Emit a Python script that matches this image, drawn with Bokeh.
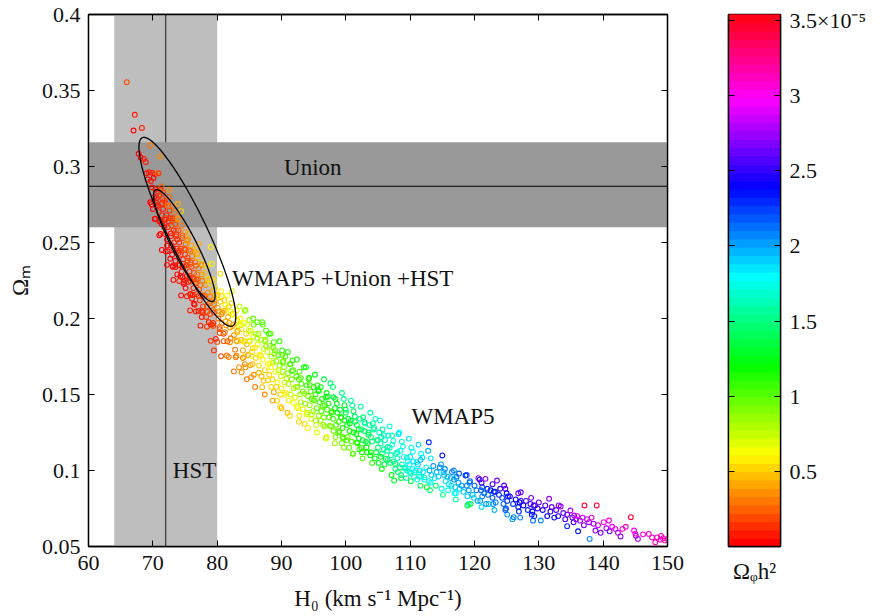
import colorsys
import numpy as np
from bokeh.plotting import figure
from bokeh.models import (ColumnDataSource, LinearColorMapper, LinearAxis, FixedTicker,
                          CustomJSTickFormatter, Range1d)
from bokeh.layouts import row
from bokeh.core.properties import value
from bokeh.embed import file_html
from bokeh.resources import INLINE

# ---------------- data ----------------
# MCMC samples: H0, Omega_m, Omega_phi h^2 (in units of 1e-5)
h0_top = [65.95, 67.2, 67.0, 68.3, 69.6, 67.8, 68.1, 68.6, 68.9, 71.1,
          69.0, 69.4, 69.9, 70.3, 70.7, 69.2, 69.7, 70.1, 70.9, 71.35,
          69.9, 70.4, 70.8, 71.2, 71.6, 70.2, 70.6, 71.0, 71.5, 71.8,
          70.9, 71.4, 70.0, 70.6, 71.0]
om_top = [0.3555, 0.3340, 0.3237, 0.3254, 0.3138, 0.3084, 0.3060, 0.3050, 0.3030, 0.3066,
          0.2955, 0.2962, 0.2958, 0.2950, 0.2956, 0.2915, 0.2905, 0.2925, 0.2956, 0.2868,
          0.2862, 0.2850, 0.2835, 0.2848, 0.2830, 0.2800, 0.2795, 0.2810, 0.2790, 0.2775,
          0.2700, 0.2680, 0.2720, 0.2760, 0.2640]
oph_top = [0.20, 0.08, 0.05, 0.10, 0.30, 0.05, 0.04, 0.06, 0.07, 0.35,
           0.05, 0.08, 0.06, 0.10, 0.28, 0.04, 0.07, 0.05, 0.12, 0.25,
           0.06, 0.10, 0.08, 0.14, 0.18, 0.05, 0.09, 0.12, 0.15, 0.20,
           0.10, 0.12, 0.04, 0.06, 0.05]

h0_core = [72.0, 72.1, 72.3, 72.2, 72.5, 72.6, 72.4, 72.8, 72.9, 73.0,
           73.1, 73.2, 73.0, 73.4, 73.5, 73.6, 73.7, 73.5, 73.9, 74.0,
           74.1, 74.0, 74.2, 74.3, 74.5, 74.6, 74.4, 74.7, 74.5, 74.8,
           75.0, 75.1, 75.0, 75.2, 75.3, 75.1, 75.5, 75.6, 75.4, 75.7,
           75.5, 75.8, 76.0, 76.1, 76.0, 76.2, 76.3, 76.1, 76.5, 76.6,
           76.4, 76.7, 76.8, 76.5, 77.0, 77.1, 77.0, 77.2, 77.3, 77.1,
           77.5, 77.6, 77.4, 77.7, 77.8, 77.6, 72.7, 73.3, 73.8, 74.3,
           74.9, 75.4, 75.9, 76.4, 76.9, 72.9, 73.6, 74.6, 75.7, 76.8]
om_core = [0.2760, 0.2680, 0.2600, 0.2520, 0.2800, 0.2710, 0.2640, 0.2560, 0.2480, 0.2740,
           0.2660, 0.2580, 0.2420, 0.2700, 0.2620, 0.2540, 0.2460, 0.2380, 0.2660, 0.2580,
           0.2500, 0.2430, 0.2350, 0.2280, 0.2610, 0.2530, 0.2460, 0.2390, 0.2310, 0.2240,
           0.2570, 0.2490, 0.2420, 0.2350, 0.2280, 0.2200, 0.2520, 0.2450, 0.2380, 0.2310,
           0.2240, 0.2160, 0.2480, 0.2410, 0.2340, 0.2270, 0.2200, 0.2130, 0.2440, 0.2370,
           0.2300, 0.2230, 0.2160, 0.2090, 0.2400, 0.2330, 0.2260, 0.2190, 0.2120, 0.2050,
           0.2360, 0.2290, 0.2220, 0.2150, 0.2080, 0.2010, 0.2660, 0.2500, 0.2520, 0.2420,
           0.2460, 0.2400, 0.2370, 0.2260, 0.2290, 0.2610, 0.2580, 0.2340, 0.2270, 0.2240]
oph_core = [0.15, 0.10, 0.08, 0.05, 0.25, 0.12, 0.10, 0.06, 0.04, 0.30,
            0.15, 0.10, 0.05, 0.30, 0.18, 0.12, 0.07, 0.04, 0.35, 0.20,
            0.12, 0.10, 0.06, 0.04, 0.30, 0.22, 0.15, 0.10, 0.07, 0.05,
            0.35, 0.25, 0.16, 0.12, 0.08, 0.05, 0.35, 0.25, 0.18, 0.13,
            0.08, 0.05, 0.40, 0.28, 0.20, 0.15, 0.10, 0.06, 0.40, 0.30,
            0.22, 0.16, 0.12, 0.07, 0.45, 0.32, 0.25, 0.18, 0.12, 0.08,
            0.45, 0.35, 0.27, 0.20, 0.14, 0.10, 0.15, 0.08, 0.15, 0.12,
            0.25, 0.20, 0.22, 0.15, 0.30, 0.18, 0.22, 0.10, 0.14, 0.25]

h0_edge = [69.6, 70.4, 71.2, 72.2, 72.7, 73.5, 74.6, 74.8, 75.9, 76.4,
           77.7, 78.7, 72.6, 73.9, 74.4, 75.3, 77.1, 79.0, 76.9, 79.2,
           80.5, 71.6, 71.9, 72.4, 71.8, 70.8, 73.1, 73.8, 71.4, 72.0]
om_edge = [0.2765, 0.2656, 0.2557, 0.2480, 0.2393, 0.2338, 0.2272, 0.2228, 0.2162, 0.2097,
           0.2041, 0.1976, 0.2847, 0.2755, 0.2706, 0.2513, 0.2491, 0.2470, 0.2426, 0.2360,
           0.2294, 0.2720, 0.2650, 0.2740, 0.2600, 0.2740, 0.2340, 0.2290, 0.2620, 0.2440]
oph_edge = [0.03, 0.04, 0.05, 0.04, 0.05, 0.03, 0.04, 0.05, 0.06, 0.05,
            0.07, 0.08, 0.35, 0.40, 0.55, 0.38, 0.42, 0.58, 0.40, 0.60,
            0.50, 0.10, 0.08, 0.20, 0.06, 0.08, 0.04, 0.05, 0.05, 0.03]

h0_fill_red = [69.8, 70.6, 71.5, 72.3, 70.3, 71.2, 72.1, 73.0, 73.9, 71.0,
               71.9, 72.8, 73.7, 74.6, 75.5, 71.4, 72.3, 73.2, 74.1, 75.0,
               75.9, 76.8, 72.2, 73.1, 74.0, 74.9, 75.8, 76.7, 77.6, 78.4,
               73.2, 74.1, 75.0, 75.9, 76.8, 77.7, 78.6, 79.5, 74.4, 75.3,
               76.2, 77.1, 78.0, 78.9, 79.8, 80.7, 75.8, 76.7, 77.6, 78.5,
               79.4, 80.3, 81.2, 82.1, 77.4, 78.4, 79.4, 80.4, 81.4, 82.4,
               83.4, 79.0, 80.0, 81.0, 82.0, 83.0, 84.0, 85.0, 80.6, 81.8,
               83.0, 84.2, 85.4, 82.6, 83.8]
om_fill_red = [0.2752, 0.2745, 0.2758, 0.2741, 0.2655, 0.2643, 0.2660, 0.2648, 0.2652, 0.2548,
               0.2556, 0.2542, 0.2553, 0.2545, 0.2557, 0.2451, 0.2443, 0.2456, 0.2447, 0.2452,
               0.2444, 0.2455, 0.2353, 0.2346, 0.2351, 0.2343, 0.2356, 0.2348, 0.2352, 0.2345,
               0.2254, 0.2247, 0.2251, 0.2243, 0.2256, 0.2248, 0.2253, 0.2246, 0.2152, 0.2146,
               0.2155, 0.2148, 0.2151, 0.2144, 0.2153, 0.2147, 0.2053, 0.2046, 0.2051, 0.2044,
               0.2055, 0.2048, 0.2052, 0.2045, 0.1953, 0.1946, 0.1951, 0.1944, 0.1955, 0.1948,
               0.1952, 0.1853, 0.1846, 0.1851, 0.1844, 0.1855, 0.1848, 0.1852, 0.1752, 0.1747,
               0.1755, 0.1749, 0.1753, 0.1652, 0.1646]
oph_fill_red = [0.04, 0.08, 0.15, 0.30, 0.04, 0.07, 0.12, 0.20, 0.35, 0.04,
                0.06, 0.10, 0.16, 0.25, 0.40, 0.04, 0.05, 0.09, 0.14, 0.20,
                0.30, 0.45, 0.03, 0.05, 0.08, 0.12, 0.18, 0.25, 0.35, 0.50,
                0.04, 0.06, 0.09, 0.13, 0.20, 0.28, 0.40, 0.55, 0.05, 0.07,
                0.10, 0.15, 0.22, 0.32, 0.45, 0.60, 0.06, 0.09, 0.13, 0.18,
                0.26, 0.36, 0.50, 0.65, 0.08, 0.12, 0.18, 0.26, 0.38, 0.50,
                0.70, 0.12, 0.18, 0.25, 0.35, 0.45, 0.60, 0.85, 0.20, 0.28,
                0.38, 0.50, 0.65, 0.30, 0.38]

h0_orange = [78.0, 78.2, 78.1, 78.4, 78.3, 78.6, 78.5, 78.8, 78.9, 79.0,
             79.2, 79.3, 79.1, 79.5, 79.4, 79.7, 79.6, 79.8, 80.0, 80.1,
             80.2, 79.5, 80.4, 80.6, 80.5, 80.8, 80.7, 81.0, 81.1, 81.0,
             81.3, 81.2, 81.5, 81.6, 81.8, 81.7, 82.0, 82.1, 82.3, 82.2,
             82.4, 82.5, 82.6, 82.9, 83.0, 83.1, 83.2, 83.4, 83.1, 83.5,
             83.6, 83.8, 83.7, 84.0, 84.4, 84.2, 84.5, 84.6, 84.8, 84.3,
             85.0, 85.2, 85.1, 85.4, 85.5, 85.7, 85.6, 85.9, 86.0, 85.3]
om_orange = [0.2300, 0.2220, 0.2150, 0.2080, 0.2010, 0.2260, 0.2170, 0.2100, 0.2030, 0.1960,
             0.2260, 0.2180, 0.2110, 0.2040, 0.1970, 0.2200, 0.2120, 0.1866, 0.2150, 0.2070,
             0.2000, 0.1790, 0.1930, 0.2180, 0.2110, 0.2040, 0.1970, 0.1900, 0.2120, 0.2050,
             0.1980, 0.1910, 0.1757, 0.2150, 0.2080, 0.2010, 0.1940, 0.1870, 0.2180, 0.2100,
             0.2030, 0.1960, 0.1890, 0.1745, 0.2053, 0.1990, 0.1920, 0.1680, 0.1850, 0.2080,
             0.2000, 0.1930, 0.1860, 0.1790, 0.2057, 0.1970, 0.1900, 0.1830, 0.1760, 0.1700,
             0.1990, 0.1920, 0.1850, 0.1780, 0.1700, 0.1960, 0.1880, 0.1810, 0.1740, 0.1614]
oph_orange = [0.45, 0.35, 0.25, 0.18, 0.12, 0.50, 0.35, 0.25, 0.18, 0.12,
              0.55, 0.40, 0.30, 0.22, 0.15, 0.55, 0.40, 0.10, 0.50, 0.40,
              0.30, 0.12, 0.22, 0.60, 0.45, 0.38, 0.30, 0.22, 0.55, 0.45,
              0.40, 0.30, 0.30, 0.62, 0.50, 0.42, 0.38, 0.30, 0.70, 0.55,
              0.48, 0.42, 0.35, 0.32, 0.60, 0.50, 0.42, 0.35, 0.40, 0.75,
              0.62, 0.50, 0.45, 0.40, 0.85, 0.62, 0.55, 0.48, 0.42, 0.38,
              0.85, 0.70, 0.58, 0.50, 0.45, 0.90, 0.68, 0.58, 0.50, 0.38]

h0_green = [86.2, 86.4, 86.3, 86.6, 86.5, 86.8, 87.0, 87.0, 87.2, 87.1,
            87.4, 87.6, 87.5, 87.8, 88.0, 87.9, 88.2, 88.1, 88.4, 88.3,
            88.6, 88.8, 88.7, 89.0, 88.8, 89.2, 89.1, 89.3, 89.5, 89.4,
            89.7, 89.9, 90.1, 90.0, 90.3, 90.2, 90.5, 90.4, 90.7, 90.6,
            91.0, 91.1, 90.9, 91.3, 91.4, 91.7, 91.6, 91.9, 91.8, 92.1,
            92.3, 92.5, 92.4, 92.7, 92.9, 92.8, 93.1, 93.0, 93.3, 93.5,
            93.7, 93.6, 93.9, 94.1, 94.0, 94.3, 94.5, 94.4, 94.7, 94.6,
            95.0, 95.1, 94.9, 95.3, 95.5, 95.4, 95.7, 95.9, 95.8, 96.1,
            96.3, 96.2, 96.5, 96.7, 96.6, 96.9, 97.1, 97.0, 97.4, 97.3,
            97.6, 97.8, 97.7, 98.1, 98.0, 98.3, 98.5, 98.4, 98.7, 98.9,
            99.1, 99.0, 99.3, 99.5, 99.4, 99.7, 99.8, 99.6, 86.9, 89.8]
om_green = [0.1976, 0.1900, 0.1830, 0.1760, 0.1690, 0.1860, 0.1976, 0.1548, 0.1800, 0.1730,
            0.1660, 0.1920, 0.1850, 0.1780, 0.1900, 0.1700, 0.1820, 0.1630, 0.1750, 0.1680,
            0.1600, 0.1844, 0.1710, 0.1790, 0.1515, 0.1720, 0.1650, 0.1460, 0.1760, 0.1580,
            0.1690, 0.1620, 0.1790, 0.1540, 0.1720, 0.1650, 0.1580, 0.1680, 0.1510, 0.1750,
            0.1640, 0.1570, 0.1380, 0.1700, 0.1500, 0.1724, 0.1600, 0.1540, 0.1660, 0.1480,
            0.1620, 0.1550, 0.1420, 0.1600, 0.1500, 0.1360, 0.1570, 0.1450, 0.1520, 0.1680,
            0.1440, 0.1307, 0.1560, 0.1490, 0.1380, 0.1610, 0.1520, 0.1430, 0.1470, 0.1340,
            0.1550, 0.1460, 0.1390, 0.1500, 0.1410, 0.1300, 0.1530, 0.1450, 0.1360, 0.1548,
            0.1470, 0.1390, 0.1300, 0.1430, 0.1350, 0.1480, 0.1400, 0.1220, 0.1350, 0.1440,
            0.1574, 0.1380, 0.1290, 0.1482, 0.1340, 0.1410, 0.1300, 0.1220, 0.1380, 0.1320,
            0.1400, 0.1250, 0.1350, 0.1280, 0.1180, 0.1470, 0.1330, 0.1210, 0.1620, 0.1420]
oph_green = [1.05, 0.85, 0.70, 0.60, 0.50, 0.78, 1.00, 0.48, 0.72, 0.62,
             0.55, 1.00, 0.85, 0.72, 1.08, 0.60, 0.92, 0.52, 0.78, 0.65,
             0.50, 1.10, 0.80, 0.98, 0.40, 0.85, 0.68, 0.55, 1.02, 0.62,
             0.88, 0.75, 1.12, 0.58, 0.95, 0.82, 0.70, 0.90, 0.60, 1.05,
             0.92, 0.80, 0.45, 1.00, 0.72, 1.15, 0.90, 0.80, 1.05, 0.70,
             1.00, 0.90, 0.62, 1.05, 0.88, 0.58, 1.00, 0.80, 0.95, 1.20,
             0.85, 0.55, 1.10, 0.95, 0.75, 1.20, 1.05, 0.88, 1.00, 0.70,
             1.15, 1.00, 0.85, 1.10, 0.95, 0.72, 1.20, 1.05, 0.85, 1.30,
             1.15, 1.00, 0.85, 1.10, 0.95, 1.25, 1.10, 0.70, 1.00, 1.20,
             1.45, 1.15, 0.95, 1.40, 1.10, 1.25, 1.05, 0.90, 1.20, 1.10,
             1.30, 1.05, 1.25, 1.15, 0.95, 1.50, 1.20, 1.05, 0.45, 0.50]

# band edges, columns of four samples (upper edge, upper middle, lower middle, lower edge)
h0_fill_band = [84.3, 84.7, 84.4, 84.6,
                85.6, 86.0, 85.7, 85.9,
                87.1, 87.5, 87.2, 87.4,
                88.3, 88.7, 88.4, 88.6,
                89.7, 90.1, 89.8, 90.0,
                91.0, 91.4, 91.1, 91.3,
                92.4, 92.8, 92.5, 92.7,
                93.8, 94.2, 93.9, 94.1,
                95.2, 95.6, 95.3, 95.5,
                96.6, 97.0, 96.7, 96.9,
                98.0, 98.4, 98.1, 98.3,
                99.4, 99.8, 99.5, 99.7,
                100.8, 101.2, 100.9, 101.1,
                102.3, 102.7, 102.4, 102.6,
                103.8, 104.2, 103.9, 104.1,
                105.3, 105.7, 105.4, 105.6,
                106.8, 107.2, 106.9, 107.1,
                108.3, 108.7, 108.4, 108.6,
                109.8, 110.2, 109.9, 110.1,
                111.3, 111.7, 111.4, 111.6,
                112.8, 113.2, 112.9, 113.1,
                114.8, 115.2, 114.9, 115.1,
                116.8, 117.2, 116.9, 117.1,
                118.8, 119.2, 118.9, 119.1,
                120.8, 121.2, 120.9, 121.1,
                122.8, 123.2, 122.9, 123.1,
                124.8, 125.2, 124.9, 125.1,
                126.8, 127.2, 126.9, 127.1,
                128.8, 129.2, 128.9, 129.1]
om_fill_band = [0.205, 0.196, 0.168, 0.160,
                0.200, 0.190, 0.163, 0.155,
                0.196, 0.186, 0.159, 0.150,
                0.190, 0.181, 0.155, 0.146,
                0.185, 0.176, 0.150, 0.141,
                0.178, 0.170, 0.146, 0.136,
                0.173, 0.165, 0.141, 0.132,
                0.168, 0.160, 0.137, 0.128,
                0.163, 0.156, 0.133, 0.125,
                0.160, 0.151, 0.129, 0.121,
                0.155, 0.147, 0.126, 0.118,
                0.151, 0.143, 0.122, 0.115,
                0.146, 0.139, 0.119, 0.111,
                0.142, 0.135, 0.115, 0.108,
                0.138, 0.131, 0.112, 0.105,
                0.133, 0.127, 0.109, 0.101,
                0.129, 0.123, 0.105, 0.097,
                0.125, 0.119, 0.102, 0.095,
                0.121, 0.115, 0.099, 0.093,
                0.117, 0.111, 0.096, 0.090,
                0.113, 0.108, 0.093, 0.087,
                0.104, 0.099, 0.088, 0.084,
                0.100, 0.095, 0.085, 0.081,
                0.097, 0.092, 0.083, 0.078,
                0.094, 0.089, 0.080, 0.076,
                0.091, 0.086, 0.078, 0.074,
                0.088, 0.083, 0.075, 0.071,
                0.085, 0.080, 0.073, 0.069,
                0.082, 0.077, 0.071, 0.067]
oph_fill_band = [0.85, 0.70, 0.35, 0.30,
                 0.95, 0.80, 0.38, 0.30,
                 1.00, 0.85, 0.45, 0.35,
                 1.05, 0.90, 0.50, 0.40,
                 1.10, 0.95, 0.55, 0.45,
                 1.12, 1.00, 0.60, 0.50,
                 1.15, 1.05, 0.65, 0.55,
                 1.20, 1.10, 0.70, 0.60,
                 1.25, 1.15, 0.80, 0.70,
                 1.35, 1.20, 0.85, 0.75,
                 1.45, 1.25, 0.95, 0.85,
                 1.50, 1.30, 1.00, 0.90,
                 1.55, 1.40, 1.05, 0.95,
                 1.60, 1.45, 1.15, 1.05,
                 1.65, 1.50, 1.20, 1.10,
                 1.70, 1.55, 1.30, 1.20,
                 1.75, 1.60, 1.40, 1.25,
                 1.80, 1.70, 1.45, 1.30,
                 1.85, 1.75, 1.50, 1.35,
                 1.90, 1.80, 1.60, 1.40,
                 1.95, 1.85, 1.70, 1.45,
                 2.00, 1.90, 1.75, 1.50,
                 2.05, 1.95, 1.80, 1.60,
                 2.20, 2.05, 1.90, 1.70,
                 2.40, 2.20, 2.00, 1.85,
                 2.50, 2.30, 2.10, 1.95,
                 2.60, 2.40, 2.20, 2.00,
                 2.65, 2.45, 2.30, 2.10,
                 2.70, 2.50, 2.35, 2.15]

# denser middle of the band (upper quarter, middle, lower quarter), H0 79-112
h0_fill_mid = [78.9, 79.5, 79.2,
               80.1, 80.7, 80.4,
               81.3, 81.9, 81.6,
               82.5, 83.1, 82.8,
               83.7, 84.3, 84.0,
               84.9, 85.5, 85.2,
               86.2, 86.8, 86.5,
               87.6, 88.2, 87.9,
               88.9, 89.5, 89.2,
               90.2, 90.8, 90.5,
               91.6, 92.2, 91.9,
               93.0, 93.6, 93.3,
               94.4, 95.0, 94.7,
               95.8, 96.4, 96.1,
               97.2, 97.8, 97.5,
               98.6, 99.2, 98.9,
               100.0, 100.6, 100.3,
               101.4, 102.0, 101.7,
               102.9, 103.5, 103.2,
               104.4, 105.0, 104.7,
               105.9, 106.5, 106.2,
               107.4, 108.0, 107.7,
               108.9, 109.5, 109.2,
               110.4, 111.0, 110.7,
               111.9, 112.5, 112.2]
om_fill_mid = [0.2230, 0.2095, 0.1960,
               0.2155, 0.2030, 0.1905,
               0.2090, 0.1970, 0.1850,
               0.2025, 0.1910, 0.1795,
               0.1960, 0.1850, 0.1740,
               0.1918, 0.1805, 0.1693,
               0.1868, 0.1755, 0.1643,
               0.1818, 0.1705, 0.1593,
               0.1770, 0.1660, 0.1550,
               0.1713, 0.1605, 0.1498,
               0.1655, 0.1550, 0.1445,
               0.1608, 0.1505, 0.1403,
               0.1563, 0.1465, 0.1368,
               0.1523, 0.1425, 0.1328,
               0.1485, 0.1390, 0.1295,
               0.1440, 0.1350, 0.1260,
               0.1400, 0.1310, 0.1220,
               0.1355, 0.1270, 0.1185,
               0.1318, 0.1235, 0.1153,
               0.1280, 0.1200, 0.1120,
               0.1233, 0.1155, 0.1078,
               0.1195, 0.1120, 0.1045,
               0.1158, 0.1085, 0.1013,
               0.1123, 0.1055, 0.0988,
               0.1085, 0.1020, 0.0955]
oph_fill_mid = [0.50, 0.30, 0.15,
                0.55, 0.35, 0.20,
                0.60, 0.40, 0.25,
                0.65, 0.45, 0.30,
                0.70, 0.50, 0.35,
                0.75, 0.55, 0.40,
                0.80, 0.60, 0.45,
                0.85, 0.65, 0.50,
                0.90, 0.72, 0.55,
                0.95, 0.78, 0.60,
                1.00, 0.82, 0.65,
                1.05, 0.88, 0.70,
                1.10, 0.95, 0.78,
                1.18, 1.00, 0.85,
                1.25, 1.08, 0.92,
                1.32, 1.15, 1.00,
                1.40, 1.22, 1.05,
                1.45, 1.30, 1.12,
                1.50, 1.38, 1.20,
                1.58, 1.45, 1.28,
                1.65, 1.52, 1.35,
                1.70, 1.60, 1.42,
                1.75, 1.65, 1.50,
                1.82, 1.72, 1.58,
                1.88, 1.78, 1.65]

h0_cyan = [100.0, 100.2, 100.1, 100.4, 100.6, 100.5, 100.8, 101.0, 101.2, 101.1,
           101.4, 101.6, 101.8, 101.7, 102.0, 102.2, 102.1, 102.4, 102.6, 102.5,
           102.9, 103.1, 103.0, 103.3, 103.5, 103.4, 103.7, 103.9, 103.8, 104.1,
           104.3, 104.6, 104.5, 104.8, 105.0, 105.2, 105.1, 105.4, 105.6, 105.5,
           105.9, 106.1, 106.0, 106.4, 106.6, 106.5, 106.8, 107.0, 107.2, 107.5,
           107.4, 107.8, 107.7, 108.0, 108.2, 108.1, 108.5, 108.7, 108.6, 109.0,
           109.2, 109.4, 109.6, 109.5, 109.9, 110.1, 110.0, 110.4, 110.6, 110.5,
           110.9, 111.2, 111.1, 111.5, 111.7, 111.6, 112.0, 112.2, 112.6, 112.9,
           113.0, 113.3, 113.2, 113.6, 113.8, 114.1, 114.0, 114.4, 114.6, 115.0]
om_cyan = [0.1380, 0.1300, 0.1200, 0.1340, 0.1260, 0.1150, 0.1330, 0.1428, 0.1250, 0.1110,
           0.1320, 0.1240, 0.1180, 0.1300, 0.1210, 0.1340, 0.1140, 0.1270, 0.1200, 0.1120,
           0.1260, 0.1190, 0.1310, 0.1120, 0.1250, 0.1180, 0.1300, 0.1220, 0.1100, 0.1190,
           0.1270, 0.1340, 0.1080, 0.1200, 0.1150, 0.1250, 0.1050, 0.1180, 0.1110, 0.1220,
           0.1140, 0.1200, 0.1040, 0.1130, 0.1230, 0.1070, 0.1150, 0.1100, 0.1170, 0.0934,
           0.1060, 0.1110, 0.1010, 0.1080, 0.1240, 0.0990, 0.1130, 0.1040, 0.0970, 0.1090,
           0.1020, 0.0950, 0.1060, 0.1000, 0.1040, 0.0980, 0.1090, 0.1010, 0.0960, 0.1060,
           0.1000, 0.1040, 0.0940, 0.1000, 0.0960, 0.1070, 0.0990, 0.0940, 0.0890, 0.1186,
           0.1000, 0.0970, 0.0920, 0.1030, 0.0950, 0.0990, 0.0900, 0.0960, 0.1020, 0.1099]
oph_cyan = [1.40, 1.25, 1.05, 1.35, 1.20, 1.00, 1.30, 1.55, 1.20, 1.00,
            1.40, 1.25, 1.15, 1.35, 1.25, 1.50, 1.10, 1.40, 1.30, 1.15,
            1.45, 1.35, 1.55, 1.20, 1.45, 1.35, 1.60, 1.45, 1.25, 1.45,
            1.60, 1.70, 1.25, 1.50, 1.45, 1.65, 1.30, 1.55, 1.45, 1.65,
            1.55, 1.65, 1.35, 1.55, 1.75, 1.45, 1.65, 1.60, 1.72, 1.30,
            1.55, 1.70, 1.50, 1.65, 1.85, 1.45, 1.75, 1.65, 1.50, 1.75,
            1.70, 1.60, 1.80, 1.72, 1.80, 1.72, 1.88, 1.78, 1.70, 1.85,
            1.82, 1.90, 1.72, 1.85, 1.80, 1.95, 1.88, 1.82, 1.30, 2.30,
            1.95, 1.90, 1.80, 2.00, 1.88, 1.95, 1.45, 1.92, 2.05, 2.35]

h0_blue = [115.3, 115.5, 115.4, 115.8, 116.0, 115.9, 116.3, 116.5, 116.4, 116.8,
           117.0, 117.2, 117.1, 117.5, 117.7, 117.6, 118.0, 118.3, 118.6, 118.9,
           118.8, 119.1, 119.4, 119.3, 119.7, 120.0, 119.9, 120.3, 120.6, 120.5,
           121.0, 121.2, 121.1, 121.5, 121.7, 122.0, 122.2, 122.1, 122.5, 122.8,
           123.0, 123.5, 123.3, 123.8, 124.0, 124.3, 124.6, 124.5, 125.0, 125.1,
           125.5, 125.9, 126.1, 126.0, 126.4, 126.8, 127.2, 127.0, 127.6, 128.0,
           128.3, 128.7, 129.0, 129.4, 129.3, 129.8, 130.0, 130.3, 121.8, 124.8]
om_blue = [0.0970, 0.0930, 0.1010, 0.0960, 0.0910, 0.0870, 0.0950, 0.0990, 0.0900, 0.0940,
           0.0890, 0.0960, 0.0850, 0.0920, 0.0880, 0.0980, 0.0900, 0.0860, 0.0967, 0.0770,
           0.0900, 0.0870, 0.0780, 0.0930, 0.0840, 0.0900, 0.0820, 0.0870, 0.0950, 0.0800,
           0.0870, 0.0830, 0.0920, 0.0850, 0.0945, 0.0880, 0.0780, 0.0840, 0.0870, 0.0820,
           0.0860, 0.0934, 0.0790, 0.0840, 0.0880, 0.0820, 0.0901, 0.0780, 0.0850, 0.0800,
           0.0830, 0.0680, 0.0693, 0.0780, 0.0810, 0.0760, 0.0857, 0.0790, 0.0770, 0.0800,
           0.0740, 0.0780, 0.0730, 0.0770, 0.0700, 0.0750, 0.0790, 0.0671, 0.0780, 0.0740]
oph_blue = [1.95, 1.85, 2.05, 1.95, 1.85, 1.75, 1.95, 2.10, 1.85, 2.00,
            1.90, 2.10, 1.80, 2.00, 1.92, 2.20, 2.00, 1.92, 2.30, 1.30,
            2.05, 2.00, 1.35, 2.20, 1.95, 2.15, 1.90, 2.10, 2.70, 1.95,
            2.20, 2.05, 2.55, 2.15, 2.75, 2.30, 1.95, 2.15, 2.30, 2.20,
            2.35, 2.70, 2.05, 2.30, 2.45, 2.25, 2.55, 2.15, 2.40, 2.30,
            2.40, 2.00, 2.05, 2.30, 2.40, 2.35, 2.65, 2.40, 2.40, 2.50,
            2.30, 2.50, 2.40, 2.55, 2.30, 2.50, 2.60, 2.05, 2.00, 2.20]

h0_magenta = [130.6, 131.0, 131.3, 131.6, 131.8, 132.0, 132.4, 132.7, 133.1, 133.4,
              133.0, 133.8, 134.1, 134.4, 134.4, 134.9, 135.2, 135.5, 135.4, 135.8,
              136.1, 136.0, 136.4, 136.8, 137.1, 137.0, 137.5, 137.9, 137.8, 138.2,
              138.5, 138.8, 139.0, 139.2, 139.6, 140.1, 140.5, 140.9, 141.0, 141.4,
              141.9, 142.3, 142.7, 143.0, 143.5, 144.3, 144.8, 145.1, 145.4, 145.0,
              146.2, 147.1, 147.6, 148.1, 148.4, 148.9, 149.3, 149.6, 150.0, 149.0]
om_magenta = [0.0740, 0.0770, 0.0700, 0.0814, 0.0730, 0.0760, 0.0690, 0.0740, 0.0770, 0.0763,
              0.0700, 0.0720, 0.0680, 0.0634, 0.0710, 0.0737, 0.0690, 0.0704, 0.0660, 0.0680,
              0.0600, 0.0700, 0.0670, 0.0690, 0.0770, 0.0640, 0.0680, 0.0550, 0.0660, 0.0690,
              0.0650, 0.0605, 0.0770, 0.0640, 0.0590, 0.0660, 0.0620, 0.0671, 0.0600, 0.0630,
              0.0616, 0.0590, 0.0566, 0.0616, 0.0630, 0.0693, 0.0605, 0.0570, 0.0550, 0.0585,
              0.0580, 0.0583, 0.0560, 0.0528, 0.0560, 0.0545, 0.0555, 0.0540, 0.0550, 0.0570]
oph_magenta = [2.45, 2.55, 2.40, 2.75, 2.50, 2.60, 2.35, 2.55, 2.70, 2.75,
               2.45, 2.65, 2.50, 2.30, 2.65, 2.80, 2.60, 2.85, 2.55, 2.75,
               2.35, 2.90, 2.75, 2.90, 3.45, 2.70, 2.85, 2.10, 2.80, 2.95,
               2.80, 2.75, 3.45, 2.85, 2.70, 3.00, 2.85, 3.05, 2.60, 2.95,
               3.00, 2.80, 2.75, 3.05, 3.10, 3.45, 3.00, 2.75, 2.80, 3.05,
               3.05, 3.10, 3.10, 3.15, 3.15, 3.10, 3.15, 3.20, 3.15, 3.10]

# HST prior band (H0 = 72 +/- 8) and Union SN band (Om = 0.287 +0.029 -0.027)
hst_h0, hst_err = 72.0, 8.0
union_om, union_up, union_dn = 0.287, 0.029, 0.027

# Joint-constraint contours (centre, major half-axis vector, minor half-axis vector)
outer_center = (75.37, 0.2570)
outer_major = (-7.02, 0.0619)
outer_minor = (2.718, 0.00552)
inner_center = (74.90, 0.2480)
inner_major = (-4.48, 0.03665)
inner_minor = (1.663, 0.003645)

label_text = ["Union", "WMAP5 +Union +HST", "WMAP5", "HST"]
label_h0 = [90.4, 82.3, 110.2, 73.1]
label_om = [0.2992, 0.2263, 0.1355, 0.1000]

x_ticks = [60, 70, 80, 90, 100, 110, 120, 130, 140, 150]
y_ticks = [0.05, 0.1, 0.15, 0.2, 0.25, 0.3, 0.35, 0.4]
cbar_ticks = [0.5, 1.0, 1.5, 2.0, 2.5, 3.0, 3.5]
cbar_max = 3.54

# ---------------- build ----------------
FONT = "Liberation Serif"
palette = []
for i in range(64):
    r, g, b = colorsys.hsv_to_rgb(i / 64.0, 1.0, 1.0)
    palette.append("#%02x%02x%02x" % (int(round(r * 255)), int(round(g * 255)), int(round(b * 255))))
mapper = LinearColorMapper(palette=palette, low=0.0, high=cbar_max)

h0 = (h0_top + h0_core + h0_edge + h0_fill_red + h0_orange + h0_green + h0_fill_band
      + h0_fill_mid + h0_cyan + h0_blue + h0_magenta)
om = (om_top + om_core + om_edge + om_fill_red + om_orange + om_green + om_fill_band
      + om_fill_mid + om_cyan + om_blue + om_magenta)
oph = (oph_top + oph_core + oph_edge + oph_fill_red + oph_orange + oph_green + oph_fill_band
       + oph_fill_mid + oph_cyan + oph_blue + oph_magenta)
assert len(h0) == len(om) == len(oph)
src = ColumnDataSource(dict(h0=h0, om=om, oph=oph))

p = figure(width=700, height=616, x_range=Range1d(60, 150), y_range=Range1d(0.05, 0.4),
           output_backend="svg", toolbar_location=None, tools="",
           min_border_left=88, min_border_right=33, min_border_top=14, min_border_bottom=70,
           x_axis_label="H₀ (km s⁻¹ Mpc⁻¹)", y_axis_label="Ωₘ")
p.grid.visible = False
p.outline_line_color = "black"
p.outline_line_width = 1.3
p.background_fill_color = "white"
p.border_fill_color = "white"

ymin, ymax = 0.05, 0.4
p.quad(left=[hst_h0 - hst_err], right=[hst_h0 + hst_err], bottom=[ymin], top=[ymax],
       fill_color="#bebebe", line_color=None)
p.segment(x0=[hst_h0], y0=[ymin], x1=[hst_h0], y1=[ymax], line_color="#333333", line_width=1.2)
p.quad(left=[60], right=[150], bottom=[union_om - union_dn], top=[union_om + union_up],
       fill_color="#999999", line_color=None)
p.segment(x0=[60], y0=[union_om], x1=[150], y1=[union_om], line_color="black", line_width=1.2)

p.scatter("h0", "om", source=src, marker="circle", size=4.8, fill_color=None,
          line_color={"field": "oph", "transform": mapper}, line_width=1.1)

t = np.linspace(0, 2 * np.pi, 240)
for c, a, b in [(outer_center, outer_major, outer_minor), (inner_center, inner_major, inner_minor)]:
    ex = c[0] + a[0] * np.cos(t) + b[0] * np.sin(t)
    ey = c[1] + a[1] * np.cos(t) + b[1] * np.sin(t)
    p.line(ex, ey, line_color="black", line_width=1.3)

p.text(x=label_h0, y=label_om, text=label_text, text_font=value(FONT), text_font_size="23px",
       text_align="left", text_baseline="middle", text_color="#111111")

def style_axis(ax):
    ax.major_tick_in = 6
    ax.major_tick_out = 0
    ax.minor_tick_line_color = None
    ax.axis_line_color = "black"
    ax.axis_line_width = 1.3
    ax.major_tick_line_color = "black"
    ax.major_label_text_font = FONT
    ax.major_label_text_font_size = "22px"
    ax.major_label_text_color = "#111111"
    ax.axis_label_text_font = FONT
    ax.axis_label_text_font_size = "23px"
    ax.axis_label_text_font_style = "normal"
    ax.axis_label_text_color = "#111111"

xax = p.xaxis[0]
xax.ticker = FixedTicker(ticks=x_ticks)
style_axis(xax)
xax.major_label_standoff = 9
xax.axis_label_standoff = 13

yax = p.yaxis[0]
yax.ticker = FixedTicker(ticks=y_ticks)
yax.formatter = CustomJSTickFormatter(code="return String(Math.round(tick*100)/100);")
style_axis(yax)
yax.major_label_standoff = 8
yax.axis_label_standoff = 6

empty = CustomJSTickFormatter(code="return '';")
top_ax = LinearAxis(ticker=FixedTicker(ticks=x_ticks), formatter=empty)
style_axis(top_ax)
top_ax.major_label_standoff = 0
p.add_layout(top_ax, "above")
right_ax = LinearAxis(ticker=FixedTicker(ticks=y_ticks), formatter=empty)
style_axis(right_ax)
right_ax.major_label_standoff = 0
p.add_layout(right_ax, "right")

# ---------------- colour bar ----------------
cb = figure(width=182, height=616, x_range=Range1d(0, 1), y_range=Range1d(0, cbar_max),
            output_backend="svg", toolbar_location=None, tools="",
            min_border_left=28, min_border_right=102, min_border_top=5, min_border_bottom=70,
            x_axis_location=None, y_axis_location=None)
cb.grid.visible = False
cb.outline_line_color = "black"
cb.outline_line_width = 1.5
edges = np.linspace(0, cbar_max, len(palette) + 1)
cb.quad(left=0, right=1, bottom=edges[:-1], top=edges[1:], fill_color=palette, line_color=palette)

cb_right = LinearAxis(ticker=FixedTicker(ticks=cbar_ticks),
                      formatter=CustomJSTickFormatter(
                          code="if (Math.abs(tick-3.5)<1e-6) {return '3.5×10⁻⁵';} return String(Math.round(tick*10)/10);"))
style_axis(cb_right)
cb_right.major_label_standoff = 9
cb.add_layout(cb_right, "right")
cb_left = LinearAxis(ticker=FixedTicker(ticks=cbar_ticks), formatter=empty)
style_axis(cb_left)
cb_left.major_label_standoff = 0
cb.add_layout(cb_left, "left")
cb_bottom = LinearAxis(ticker=FixedTicker(ticks=[]), axis_label="Ωᵩh²")
style_axis(cb_bottom)
cb_bottom.axis_label_standoff = 12
cb.add_layout(cb_bottom, "below")

layout = row(p, cb)
open("out.html", "w").write(file_html(layout, INLINE))
